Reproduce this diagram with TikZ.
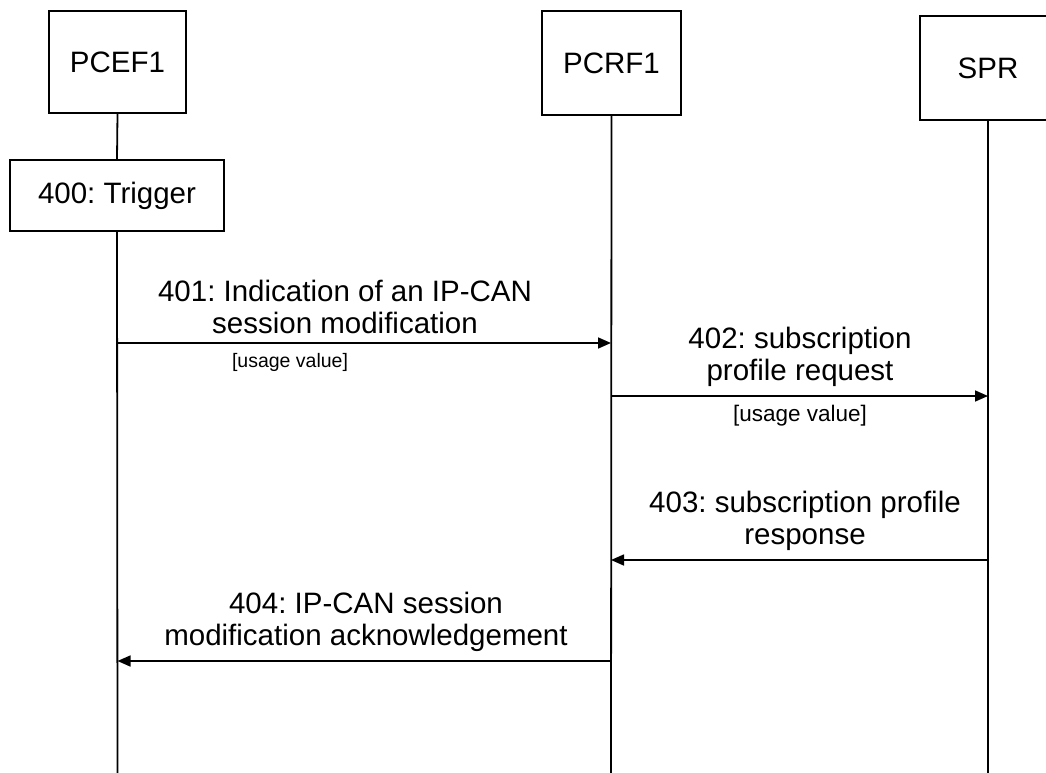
\documentclass[tikz,border=0pt]{standalone}
\usepackage{fontspec}
\setmainfont{Liberation Sans}
\usetikzlibrary{arrows.meta,calc}
\frenchspacing
\begin{document}
\begin{tikzpicture}[x=1pt,y=-1pt,
  line width=1.8pt,
  entity/.style={draw, rectangle, inner sep=0pt, font=\fontsize{29.5}{34}\selectfont},
  msg/.style={align=center, inner sep=0pt, anchor=south, font=\fontsize{29.5}{32}\selectfont},
  note/.style={inner sep=0pt, anchor=base},
  arr/.style={line width=1.6pt, -{Triangle[length=13pt,width=11pt]}},
  life/.style={line width=1.8pt}]
\useasboundingbox (0,0) rectangle (1046,773);
\clip (0,0) rectangle (1046,773);
\fill[white] (0,0) rectangle (1046,773);
% entities
\node[entity, minimum width=137pt, minimum height=102pt] (pcef) at (117.5,62) {PCEF1};
\node[entity, minimum width=214pt, minimum height=71pt] (trig) at (117,195.5) {400: Trigger};
\node[entity, minimum width=139pt, minimum height=104pt] (pcrf) at (611.5,63) {PCRF1};
\node[entity, minimum width=136pt, minimum height=104pt] (spr) at (988,68) {SPR};
% lifeline ends
\coordinate (pcefEnd) at (117.5,773);
\coordinate (pcrfEnd) at (611,773);
\coordinate (sprEnd) at (988,773);
\draw[life] (pcef.south) -- (trig.north);
\draw[life] (trig.south) -- (pcefEnd);
\draw[life] (pcrf.south) -- (pcrfEnd);
\draw[life] (spr.south) -- (sprEnd);
% message endpoints
\coordinate (m1s) at (117.5,343);
\coordinate (m1e) at (611,343);
\coordinate (m2s) at (611,396);
\coordinate (m2e) at (988,396);
\coordinate (m3s) at (988,560);
\coordinate (m3e) at (611,560);
\coordinate (m4s) at (611,661);
\coordinate (m4e) at (117.5,661);
\draw[arr] (m1s) -- (m1e);
\draw[arr] (m2s) -- (m2e);
\draw[arr] (m3s) -- (m3e);
\draw[arr] (m4s) -- (m4e);
% labels
\node[msg] (l1) at (345,335) {401: Indication of an IP-CAN\\session modification};
\node[note, font=\fontsize{19.5}{22}\selectfont] (u1) at (290,367) {[usage value]};
\node[msg] (l2) at (800,388) {402: subscription\\profile request};
\node[note, font=\fontsize{22.5}{26}\selectfont] (u2) at (800,421) {[usage value]};
\node[msg] (l3) at (805,552) {403: subscription profile\\response};
\node[msg] (l4) at (366,653) {404: IP-CAN session\\modification acknowledgement};
\end{tikzpicture}
\end{document}
